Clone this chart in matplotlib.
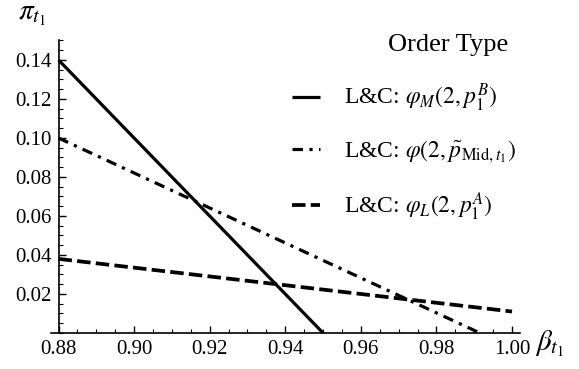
import matplotlib
matplotlib.use("Agg")
import matplotlib.pyplot as plt
from matplotlib.ticker import MultipleLocator, FormatStrFormatter

plt.rcParams['font.family'] = ['Liberation Serif', 'DejaVu Serif']
plt.rcParams['mathtext.fontset'] = 'stix'

# beta_{t1} vs pi_{t1} for the three order types (straight lines)
beta_market = [0.88, 0.95]
pi_market = [0.14, 0.0]
beta_mid = [0.88, 0.9915]
pi_mid = [0.10, 0.0]
beta_limit = [0.88, 1.00]
pi_limit = [0.038, 0.011]

labels = [r"L&C: $\varphi_M(2,p_1^B)$",
          r"L&C: $\varphi(2,\tilde{p}_{\mathrm{Mid},t_1})$",
          r"L&C: $\varphi_L(2,p_1^A)$"]

fig = plt.figure(figsize=(5.79, 3.69), dpi=100)
ax = fig.add_axes([0.088, 0.0976, 0.810, 0.7927])

ax.plot(beta_market, pi_market, color='black', lw=2.3, label=labels[0],
        solid_capstyle='butt')
ax.plot(beta_mid, pi_mid, color='black', lw=2.3, label=labels[1],
        linestyle=(0, (3.3, 2, 1, 2)), dash_capstyle='butt')
ax.plot(beta_limit, pi_limit, color='black', lw=2.7, label=labels[2],
        linestyle=(0, (3.6, 1.4)), dash_capstyle='butt')

ax.set_xlim(0.878, 1.0021)
ax.set_ylim(0, 0.15)

for s in ['top', 'right']:
    ax.spines[s].set_visible(False)
ax.spines['left'].set_position(('data', 0.88))
ax.spines['left'].set_linewidth(1.2)
ax.spines['bottom'].set_linewidth(1.2)

ax.xaxis.set_major_locator(MultipleLocator(0.02))
ax.xaxis.set_minor_locator(MultipleLocator(0.005))
ax.yaxis.set_major_locator(MultipleLocator(0.02))
ax.yaxis.set_minor_locator(MultipleLocator(0.005))
ax.xaxis.set_major_formatter(FormatStrFormatter('%.2f'))
ax.yaxis.set_major_formatter(FormatStrFormatter('%.2f'))
ax.set_yticks([0.02, 0.04, 0.06, 0.08, 0.10, 0.12, 0.14])
ax.tick_params(which='major', direction='in', length=5, width=1, labelsize=15, pad=5)
ax.tick_params(which='minor', direction='in', length=3, width=0.8)

fig.text(18 / 579, 1 - 2 / 369, r"$\pi_{t_1}$", fontsize=21, ha='left', va='top')
fig.text(535 / 579, 1 - 344 / 369, r"$\beta_{t_1}$", fontsize=21, ha='left', va='center')

fig.text(448 / 579, 1 - 45 / 369, "Order Type", fontsize=19, ha='center', va='center')
leg = ax.legend(loc='upper left', bbox_to_anchor=(292 / 579, 1 - 82 / 369),
                bbox_transform=fig.transFigure, borderaxespad=0, borderpad=0,
                frameon=False, fontsize=17,
                handlelength=1.2, labelspacing=1.05, handletextpad=1.0)

fig.savefig("out.png", dpi=100)
